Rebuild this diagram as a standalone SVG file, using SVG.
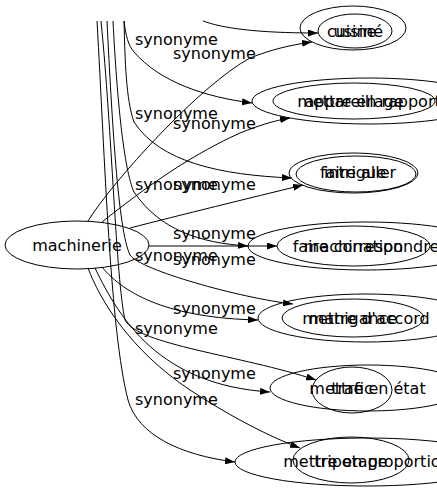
<svg xmlns="http://www.w3.org/2000/svg" width="437" height="491" viewBox="0 0 437 491">
<style>
.n{fill:none;stroke:#000;stroke-width:1}
.e{fill:none;stroke:#000;stroke-width:1;marker-end:url(#a)}
text{font-family:"DejaVu Sans","Liberation Sans",sans-serif;font-size:16px;fill:#000}
.c{text-anchor:middle}
</style>
<defs>
<marker id="a" markerUnits="userSpaceOnUse" markerWidth="10" markerHeight="7" refX="10" refY="3.5" orient="auto">
<path d="M0,0 L10,3.5 L0,7 Z" fill="#000"/>
</marker>
</defs>
<rect width="437" height="491" fill="#fff"/>
<g id="connectors">
<path class="e" d="M203,21 C222,28 255,33 318,33"/>
<path class="e" d="M124,21 C126,36 128,45 134,52 C160,82 205,97 252,103"/>
<path class="e" d="M124,21 C125,60 126,100 134,122 C160,162 220,175 292,178"/>
<path class="e" d="M113,21 C117,100 124,170 134,192 C160,230 200,243 248,246"/>
<path class="e" d="M107,21 C112,120 118,230 130,255 C140,270 240,298 293,304"/>
<path class="e" d="M101,21 C112,130 116,280 125,320 C138,345 240,355 316,380"/>
<path class="e" d="M97,21 C105,160 110,330 128,400 C138,435 180,455 235,462"/>
<path class="e" d="M88,221 C112,182 200,85 250,58 C270,50 290,45 312,42"/>
<path class="e" d="M102,222 C130,200 180,160 240,133 C258,126 272,121 290,118"/>
<path class="e" d="M130,228 C180,215 250,198 303,185"/>
<path class="e" d="M149,246 L277,246"/>
<path class="e" d="M102,267 C125,295 170,318 258,320"/>
<path class="e" d="M95,268 C120,320 160,385 270,392"/>
<path class="e" d="M88,268 C100,300 130,350 190,390 C225,413 265,435 300,448"/>
<text x="135" y="45">synonyme</text>
<text x="173" y="58.5">synonyme</text>
<text x="135" y="118.5">synonyme</text>
<text x="173" y="128.5">synonyme</text>
<text x="135" y="190">synonyme</text>
<text x="173" y="190">synonyme</text>
<text x="173" y="238.5">synonyme</text>
<text x="135" y="261">synonyme</text>
<text x="173" y="265">synonyme</text>
<text x="173" y="313.5">synonyme</text>
<text x="135" y="333.5">synonyme</text>
<text x="173" y="378.5">synonyme</text>
<text x="135" y="405">synonyme</text>
</g>
<g id="node-machinerie"><ellipse class="n" cx="77" cy="245" rx="72" ry="24"/><text class="c" x="77" y="251">machinerie</text></g>
<g id="node-cuisine"><ellipse class="n" cx="353" cy="28" rx="53" ry="22"/><text class="c" x="355" y="37">cuisiné</text></g>
<g id="node-usine"><ellipse class="n" cx="355" cy="31" rx="37" ry="17"/><text class="c" x="355" y="37">usine</text></g>
<g id="node-mettre-en-rapport"><ellipse class="n" cx="369" cy="101" rx="117" ry="23"/><text class="c" x="369" y="107">mettre en rapport</text></g>
<g id="node-appareillage"><ellipse class="n" cx="354" cy="101" rx="81" ry="18"/><text class="c" x="354" y="107">appareillage</text></g>
<g id="node-faire-aller"><ellipse class="n" cx="353.5" cy="173" rx="64.5" ry="20"/><text class="c" x="358" y="178">faire aller</text></g>
<g id="node-intrigue"><ellipse class="n" cx="356" cy="174" rx="60" ry="18"/><text class="c" x="355" y="178">intrigue</text></g>
<g id="node-faire-correspondre"><ellipse class="n" cx="366" cy="246" rx="118" ry="24"/><text class="c" x="366" y="252">faire correspondre</text></g>
<g id="node-machination"><ellipse class="n" cx="353.5" cy="246" rx="76.5" ry="20"/><text class="c" x="353.5" y="252">machination</text></g>
<g id="node-mettre-d-accord"><ellipse class="n" cx="366" cy="318" rx="108" ry="24"/><text class="c" x="366" y="324">mettre d'accord</text></g>
<g id="node-manigance"><ellipse class="n" cx="353" cy="318" rx="71" ry="19"/><text class="c" x="353" y="324">manigance</text></g>
<g id="node-mettre-en-etat"><ellipse class="n" cx="368" cy="388" rx="98" ry="23"/><text class="c" x="367.5" y="394">mettre en état</text></g>
<g id="node-trafic"><ellipse class="n" cx="352" cy="390" rx="40" ry="23"/><text class="c" x="352" y="394">trafic</text></g>
<g id="node-mettre-en-proportion"><ellipse class="n" cx="367" cy="462" rx="132" ry="24"/><text class="c" x="367" y="467">mettre en proportion</text></g>
<g id="node-tripotage"><ellipse class="n" cx="351" cy="460" rx="58" ry="23"/><text class="c" x="351" y="467">tripotage</text></g>
</svg>
